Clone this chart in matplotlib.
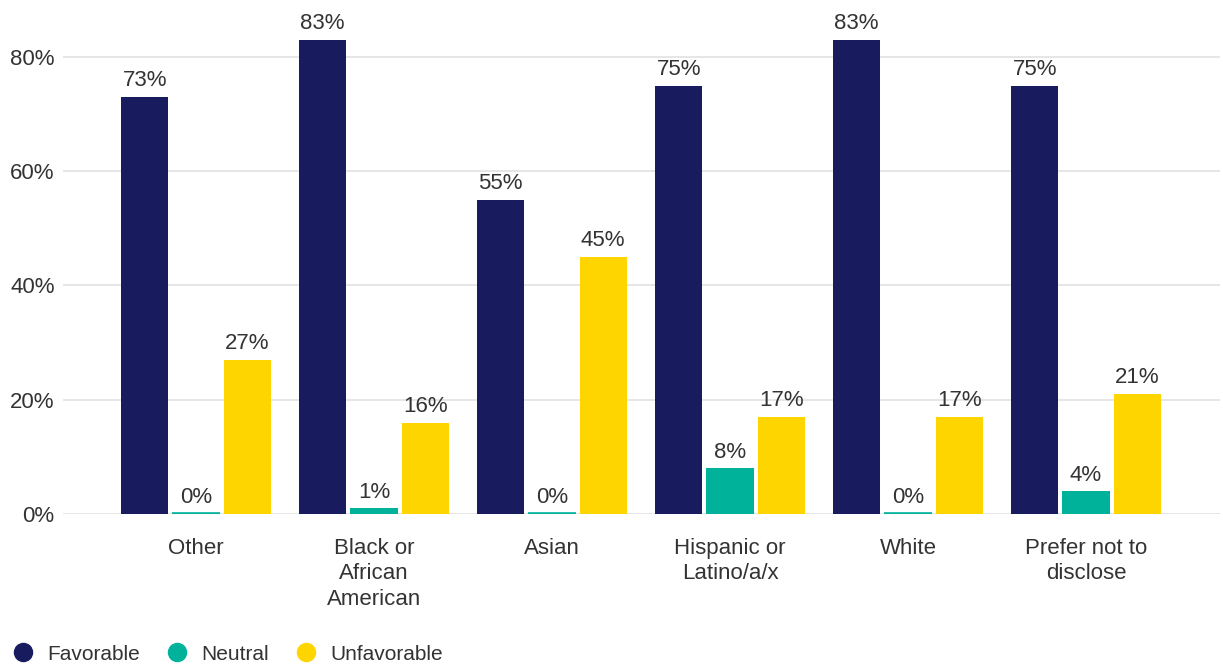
import matplotlib
matplotlib.use("Agg")
import matplotlib.pyplot as plt
from matplotlib.lines import Line2D
import numpy as np

# Survey results by race / ethnicity (percent of respondents)
categories = ["Other", "Black or\nAfrican\nAmerican", "Asian",
              "Hispanic or\nLatino/a/x", "White", "Prefer not to\ndisclose"]
favorable = [73, 83, 55, 75, 83, 75]
neutral = [0, 1, 0, 8, 0, 4]
unfavorable = [27, 16, 45, 17, 17, 21]
series_names = ["Favorable", "Neutral", "Unfavorable"]
yticks = [0, 20, 40, 60, 80]

colors = ["#181c5f", "#00b29a", "#ffd500"]
text_color = "#333333"

plt.rcParams["font.family"] = ["Liberation Sans", "DejaVu Sans"]

W, H = 1223, 667
fig = plt.figure(figsize=(W / 100, H / 100), dpi=100)
left, right = 63 / W, 1220 / W
bottom, top = (H - 514) / H, (H - 1) / H
ax = fig.add_axes([left, bottom, right - left, top - bottom])

x = np.arange(len(categories))
step = 0.288
width = 0.266
series = [favorable, neutral, unfavorable]
for k, (vals, col) in enumerate(zip(series, colors)):
    pos = x + (k - 1) * step
    bars = ax.bar(pos, vals, width=width, color=col, zorder=3)
    for b, v in zip(bars, vals):
        if v == 0:
            # keep zero-value bars visible as a thin strip on the baseline
            b.set_edgecolor(col)
            b.set_linewidth(2.6)
        ax.annotate(f"{v}%", (b.get_x() + b.get_width() / 2, v),
                    xytext=(0, 4), textcoords="offset points",
                    ha="center", va="bottom", fontsize=16, color=text_color)

ax.set_ylim(0, 89.8)
ax.set_xlim(-0.747, 5.753)
ax.set_yticks(yticks)
ax.set_yticklabels([f"{t}%" for t in yticks])
ax.set_xticks(x)
ax.set_xticklabels(categories, linespacing=1.3)
ax.tick_params(axis="y", length=0, pad=6, labelsize=16, labelcolor=text_color)
ax.tick_params(axis="x", length=0, pad=17, labelsize=16, labelcolor=text_color)

ax.grid(axis="y", color="#e4e4e4", linewidth=1.3, zorder=0)
for s in ax.spines.values():
    s.set_visible(False)

handles = [Line2D([], [], marker="o", linestyle="none", markersize=13,
                  markerfacecolor=c, markeredgecolor=c) for c in colors]
leg = fig.legend(handles, series_names, loc="center left",
                 bbox_to_anchor=(0.0035, (H - 654) / H), ncol=3, frameon=False,
                 fontsize=15, handletextpad=0.55, columnspacing=1.2,
                 handlelength=1.2, borderaxespad=0.0, borderpad=0.3)
for t in leg.get_texts():
    t.set_color(text_color)

fig.savefig("out.png", dpi=100)
